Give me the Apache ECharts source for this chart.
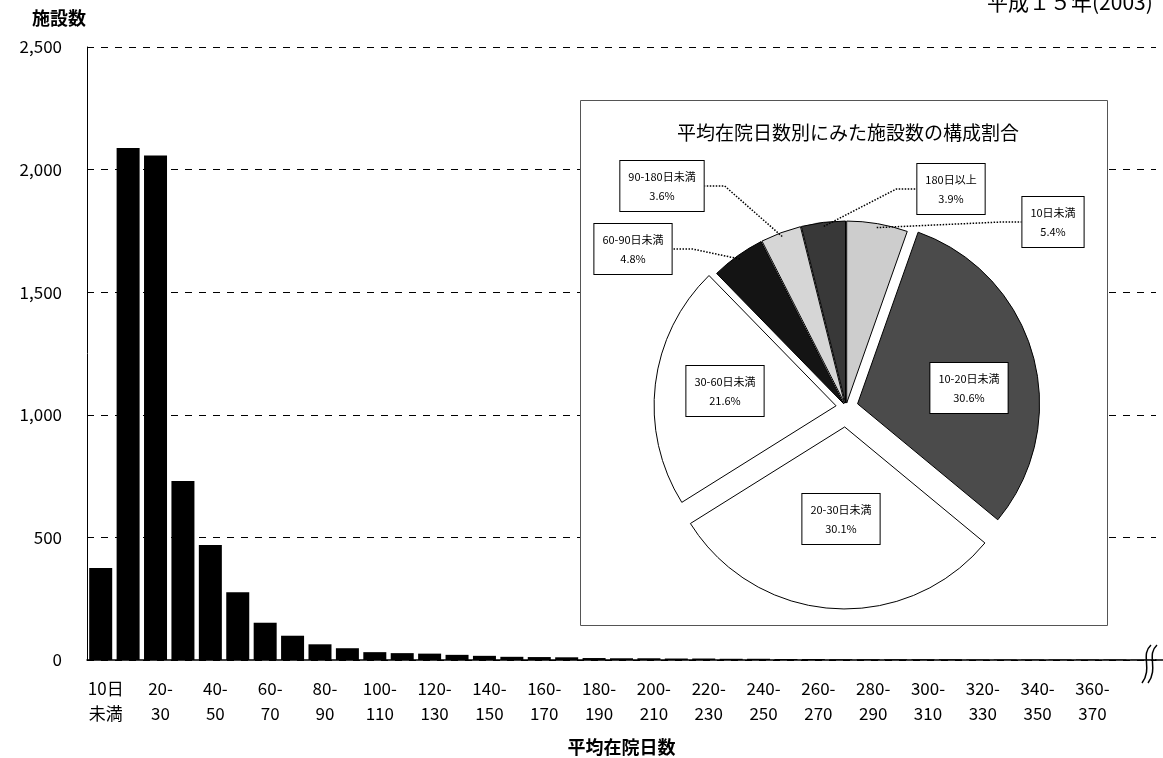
<!DOCTYPE html>
<html><head><meta charset="utf-8">
<script src="https://cdn.jsdelivr.net/npm/echarts@6/dist/echarts.min.js"></script>
<style>html,body{margin:0;padding:0;background:#fff}#c{width:1163px;height:758px}</style>
</head><body><div id="c"></div>
<script>
// ---- data ----
const categories = ['10日未満','10-20','20-30','30-40','40-50','50-60','60-70','70-80','80-90','90-100',
  '100-110','110-120','120-130','130-140','140-150','150-160','160-170','170-180','180-190','190-200',
  '200-210','210-220','220-230','230-240','240-250','250-260','260-270','270-280','280-290','290-300',
  '300-310','310-320','320-330','330-340','340-350','350-360','360-370','370-380','380-390'];
const facilityCounts = [375,2088,2058,730,469,276,152,99,64,48,
  32,28,26,21,17,13,12,11,8,7,
  7,6,6,5,5,4,4,3,3,3,
  3,3,2,2,2,2,2,2,1];
const yMin = 0, yMax = 2500, yStep = 500;
const pieNames = ['10日未満','10-20日未満','20-30日未満','30-60日未満','60-90日未満','90-180日未満','180日以上'];
const pieShares = [5.4,30.6,30.1,21.6,4.8,3.6,3.9];

// ---- styling ----
const pieColors = ['#cdcdcd','#4b4b4b','#ffffff','#ffffff','#141414','#d6d6d6','#383838'];
const pieOffsets = [4,12,20,10,4,4,4];
const pieInside = [false,true,true,true,false,false,false];
const pieLabelPos = [[1053,222],[969,388],[841,519],[725,391],[633,249],[662,186],[951,189]];
const FONT = 'Noto Sans CJK JP';
const PIE_CENTER = [846, 407], PIE_R = 182;

const chart = echarts.init(document.getElementById('c'), null, {renderer:'canvas'});

// one series per slice so each slice can have its own explode offset
const sliceSeries = pieNames.map((nm, k) => ({
  type: 'pie', center: PIE_CENTER, radius: PIE_R, startAngle: 90, clockwise: true,
  selectedMode: 'multiple', selectedOffset: pieOffsets[k],
  avoidLabelOverlap: false, emphasis: {disabled: true}, animation: false, z: 3,
  label: {show: false}, labelLine: {show: false},
  data: pieNames.map((n, i) => i === k ? {
    name: n, value: pieShares[i], selected: true,
    itemStyle: {color: pieColors[i], borderColor: '#000', borderWidth: 1}
  } : {
    name: n, value: pieShares[i], itemStyle: {color: 'rgba(0,0,0,0)', borderWidth: 0}
  })
}));

// label-only series (not exploded) carrying the boxed labels and leader lines
const labelSeries = {
  type: 'pie', center: PIE_CENTER, radius: PIE_R, startAngle: 90, clockwise: true,
  avoidLabelOverlap: false, emphasis: {disabled: true}, animation: false, z: 4,
  labelLayout: function (p) {
    const pos = pieLabelPos[p.dataIndex];
    return {x: pos[0], y: pos[1], align: 'center', verticalAlign: 'middle'};
  },
  data: pieNames.map((n, i) => ({
    name: n, value: pieShares[i],
    itemStyle: {color: 'rgba(0,0,0,0)', borderWidth: 0},
    label: {
      show: true, position: pieInside[i] ? 'inside' : 'outside',
      formatter: '{b}\n{c}%', color: '#000', fontSize: 11, lineHeight: 19,
      fontFamily: FONT, backgroundColor: '#fff', borderColor: '#000', borderWidth: 1,
      padding: [6, 8], align: 'center'
    },
    labelLine: {show: !pieInside[i], length: 14, length2: 20, smooth: false,
      lineStyle: {type: 'dotted', color: '#000', width: 1.5}}
  }))
};

const option = {
  animation: false,
  backgroundColor: '#fff',
  textStyle: {fontFamily: FONT, color: '#000'},
  title: [
    {text: '施設数', left: 32, top: 9, padding: 0,
      textStyle: {fontSize: 18, fontWeight: 'bold', color: '#000', fontFamily: FONT}},
    {text: '平成１５年(2003)', left: 987, top: -8, padding: 0,
      textStyle: {fontSize: 21, fontWeight: 'normal', color: '#000', fontFamily: FONT}},
    {text: '平均在院日数別にみた施設数の構成割合', left: 677, top: 123, padding: 0, z: 6,
      textStyle: {fontSize: 19, fontWeight: 'normal', color: '#000', fontFamily: FONT}}
  ],
  grid: {left: 87, right: 7, top: 47, bottom: 98, containLabel: false, outerBoundsMode: 'none'},
  xAxis: {
    type: 'category', data: categories, boundaryGap: true,
    name: '平均在院日数', nameLocation: 'middle', nameGap: 78,
    nameTextStyle: {fontSize: 18, fontWeight: 'bold', color: '#000', fontFamily: FONT},
    axisLine: {show: true, lineStyle: {color: '#000', width: 1.5}},
    axisTick: {show: false},
    axisLabel: {
      interval: (idx) => idx % 2 === 0 && idx <= 36,
      formatter: (v) => v === '10日未満' ? '10日\n未満' : v.split('-')[0] + '-\n' + v.split('-')[1],
      color: '#000', fontSize: 17, lineHeight: 25, margin: 16, fontFamily: FONT,
      padding: [0, 0, 0, 10]
    },
    splitLine: {show: false}
  },
  yAxis: {
    type: 'value', min: yMin, max: yMax, interval: yStep,
    axisLine: {show: true, lineStyle: {color: '#000', width: 1}},
    axisTick: {show: false},
    axisLabel: {formatter: (v) => v.toLocaleString('en-US'), color: '#000', fontSize: 17, margin: 25, fontFamily: FONT},
    splitLine: {show: true, lineStyle: {type: [7, 7], color: '#000', width: 1}}
  },
  graphic: [
    {type: 'rect', left: 580, top: 100, z: 1, shape: {width: 527, height: 525},
      style: {fill: '#fff', stroke: '#555', lineWidth: 1}},
    {type: 'line', z: 5, shape: {x1: 1155, y1: 660, x2: 1163, y2: 660}, style: {stroke: '#000', lineWidth: 1.5}},
    {type: 'bezierCurve', z: 5, shape: {x1: 1151, y1: 645, cpx1: 1140, cpy1: 655, cpx2: 1153, cpy2: 668, x2: 1142, y2: 683},
      style: {stroke: '#000', lineWidth: 1.5, fill: null}},
    {type: 'bezierCurve', z: 5, shape: {x1: 1157, y1: 645, cpx1: 1146, cpy1: 655, cpx2: 1159, cpy2: 668, x2: 1148, y2: 683},
      style: {stroke: '#000', lineWidth: 1.5, fill: null}}
  ],
  series: [
    {type: 'bar', data: facilityCounts, barWidth: 23, itemStyle: {color: '#000'}, z: 2, silent: true}
  ].concat(sliceSeries, [labelSeries])
};
chart.setOption(option);
</script>
</body></html>
